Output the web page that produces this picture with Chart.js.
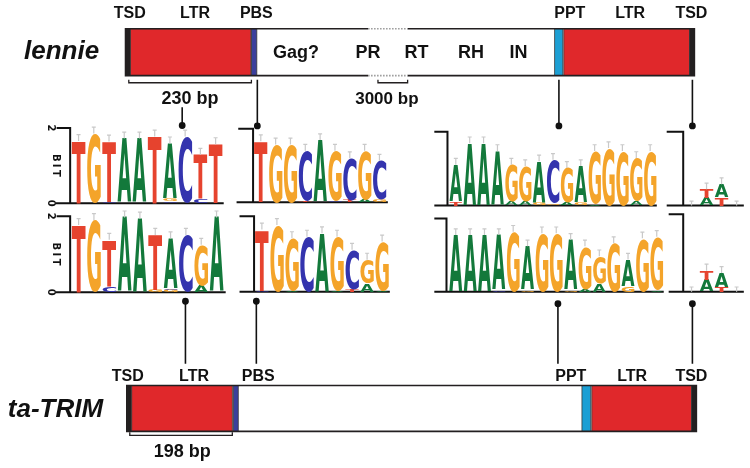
<!DOCTYPE html>
<html>
<head>
<meta charset="utf-8">
<script src="https://cdn.jsdelivr.net/npm/chart.js@4.4.1/dist/chart.umd.min.js"></script>
<style>
  body { margin: 0; background: #fff; }
  #wrap { width: 750px; height: 468px; }
</style>
</head>
<body>
<div id="wrap"><canvas id="figure" width="750" height="468"></canvas></div>
<script>
// element names and labels
const elementLabels = ["TSD", "LTR", "PBS", "PPT", "LTR", "TSD"];
const lennieDomains = ["Gag?", "PR", "RT", "RH", "IN"];
const lennieName = "lennie";
const trimName = "ta-TRIM";
const lennieLtrSize = "230 bp";
const lennieGapSize = "3000 bp";
const trimLtrSize = "198 bp";

// sequence logos: one entry per position, letters stacked bottom -> top as [base, bits]
const lennieLtrStart = [
    [["T", 1.65]], [["G", 1.85]], [["C", 0.04], ["T", 1.6]], [["A", 1.72]], [["A", 1.72]],
    [["T", 1.77]], [["C", 0.05], ["G", 0.07], ["A", 1.47]], [["C", 1.77]], [["C", 0.1], ["T", 1.19]], [["T", 1.57]]
];
const trimLtrStart = [
    [["T", 1.77]], [["G", 1.9]], [["C", 0.15], ["T", 1.23]], [["A", 1.97]], [["A", 1.94]],
    [["G", 0.05], ["T", 1.46]], [["G", 0.05], ["C", 0.04], ["A", 1.33]], [["C", 1.51]], [["A", 0.17], ["G", 1.08]], [["A", 1.97]]
];
const lenniePbs = [
    [["T", 1.66]], [["G", 1.57]], [["G", 1.57]], [["T", 0.05], ["C", 1.35]], [["A", 1.69]],
    [["C", 0.05], ["G", 1.35]], [["T", 0.07], ["C", 1.13]], [["A", 0.08], ["G", 1.32]], [["G", 0.08], ["C", 1.05]]
];
const trimPbs = [
    [["C", 0.03], ["T", 1.62]], [["G", 1.77]], [["A", 0.03], ["G", 1.39]], [["C", 1.46]], [["A", 1.55]],
    [["A", 0.03], ["G", 1.43]], [["T", 0.06], ["C", 1.05]], [["A", 0.22], ["G", 0.63]], [["A", 0.04], ["G", 1.29]]
];
const lenniePpt = [
    [["T", 0.1], ["A", 1.01]], [["A", 1.69]], [["A", 1.69]], [["A", 1.48]], [["A", 0.1], ["G", 1.01]],
    [["A", 0.1], ["G", 0.97]], [["G", 0.08], ["A", 1.12]], [["G", 0.05], ["C", 1.19]], [["A", 0.08], ["G", 0.94]],
    [["G", 0.08], ["A", 0.99]], [["A", 0.04], ["G", 1.44]], [["G", 1.56]], [["G", 1.48]], [["A", 0.1], ["G", 1.19]], [["G", 1.48]]
];
const trimPpt = [
    [["A", 1.55]], [["A", 1.55]], [["A", 1.55]], [["C", 0.04], ["A", 1.51]], [["G", 1.64]],
    [["G", 0.05], ["A", 1.19]], [["G", 1.6]], [["G", 1.6]], [["G", 0.05], ["A", 1.37]], [["A", 0.08], ["G", 1.16]],
    [["A", 0.22], ["G", 0.75]], [["G", 1.33]], [["G", 0.15], ["A", 0.73]], [["G", 1.46]], [["A", 0.04], ["G", 1.46]]
];
const lennieTsd = [[], [["A", 0.2], ["T", 0.24]], [["T", 0.22], ["A", 0.36]], []];
const trimTsd = [[], [["A", 0.3], ["T", 0.24]], [["T", 0.12], ["A", 0.36]], []];
const bitTicks = ["0", "2"];

// colours
const baseColors = { A: "#13793b", C: "#3434ae", G: "#f4a42a", T: "#e6432e" };
const RED = "#e0282b", CYAN = "#1c9fd4", PURPLE = "#3b3f9c", DARK = "#231f20";

// layout (figure units, 750 x 468)
const lennieBox = { x0: 122.7, x1: 698, y0: 25, y1: 72.7, gap: [368, 408] };
const trimBox = { x0: 124, x1: 700, y0: 388.3, y1: 435 };
const lennieSegs = [[122.7, 127.7, DARK], [127.7, 249.5, RED], [250, 255.5, PURPLE], [556.7, 565, CYAN], [566, 693, RED], [693, 698, DARK]];
const trimSegs = [[124, 129, DARK], [129, 230.7, RED], [231.7, 236.7, PURPLE], [584.3, 593.3, CYAN], [594.3, 695, RED], [695, 700, DARK]];
const lennieLabelX = [127, 193, 255, 572, 633, 695];
const trimLabelX = [125, 192, 257, 573, 635, 695];
const domainX = [295, 368, 417, 472, 520];

const panels = [
    { data: lennieLtrStart, axis: 66.7, tick: 53, lineL: 52, lineR: 222, top: 126, base: 202.7, start: 67.5, slot: 15.4, bitText: true },
    { data: trimLtrStart, axis: 66.7, tick: 53, lineL: 52, lineR: 224, top: 216, base: 293.3, start: 67.5, slot: 15.5, bitText: true },
    { data: lenniePbs, axis: 251.7, tick: 236.7, lineL: 235, lineR: 388, top: 126.7, base: 201.7, start: 252, slot: 15, bitText: false },
    { data: trimPbs, axis: 252.7, tick: 238, lineL: 238, lineR: 390, top: 216, base: 292.7, start: 253, slot: 15.2, bitText: false },
    { data: lenniePpt, axis: 448.3, tick: 435, lineL: 435, lineR: 660, top: 130, base: 205, start: 449.7, slot: 14.04, bitText: false },
    { data: trimPpt, axis: 447.3, tick: 435, lineL: 435, lineR: 667, top: 218.3, base: 292.7, start: 449.4, slot: 14.52, bitText: false },
    { data: lennieTsd, axis: 686.7, tick: 670, lineL: 670, lineR: 748, top: 130, base: 205, start: 687.5, slot: 15.2, bitText: false },
    { data: trimTsd, axis: 686.7, tick: 672, lineL: 672, lineR: 748, top: 214, base: 292.7, start: 687.5, slot: 15.2, bitText: false }
];

// connectors: [x, dot y, other end y]
const connectors = [[180, 123.5, 105], [256, 124, 77], [561, 124, 77], [696, 124, 77],
                    [183.3, 302.5, 366], [255, 302.5, 366], [560, 305, 366], [696, 305, 366]];

function letter(ctx, ch, x, yBottom, w, h, color) {
    if (h < 0.6) return;
    ctx.save();
    ctx.font = 'bold 100px "DejaVu Sans", "Liberation Sans", sans-serif';
    ctx.textBaseline = "alphabetic";
    ctx.textAlign = "left";
    const m = ctx.measureText(ch);
    const gw = m.actualBoundingBoxLeft + m.actualBoundingBoxRight;
    const gh = m.actualBoundingBoxAscent + m.actualBoundingBoxDescent;
    ctx.translate(x, yBottom);
    ctx.scale(w / gw, h / gh);
    ctx.fillStyle = color;
    ctx.fillText(ch, m.actualBoundingBoxLeft, -m.actualBoundingBoxDescent);
    ctx.restore();
}

function drawBox(ctx, X, Y, box, segs) {
    const l = X(box.x0), r = X(box.x1), t = Y(box.y0), b = Y(box.y1);
    ctx.fillStyle = "#fff";
    ctx.fillRect(l, t, r - l, b - t);
    segs.forEach(s => {
        ctx.fillStyle = s[2];
        ctx.fillRect(X(s[0]), t, X(s[1]) - X(s[0]), b - t);
        ctx.strokeStyle = "#3a3a3a";
        ctx.lineWidth = 0.8;
        ctx.strokeRect(X(s[0]), t, X(s[1]) - X(s[0]), b - t);
    });
    ctx.strokeStyle = DARK;
    ctx.lineWidth = 1.6;
    ctx.beginPath();
    if (box.gap) {
        const g0 = X(box.gap[0]), g1 = X(box.gap[1]);
        ctx.moveTo(g0, t); ctx.lineTo(l, t); ctx.lineTo(l, b); ctx.lineTo(g0, b);
        ctx.moveTo(g1, t); ctx.lineTo(r, t); ctx.lineTo(r, b); ctx.lineTo(g1, b);
        ctx.stroke();
        ctx.save();
        ctx.setLineDash([1.5, 1.5]);
        ctx.strokeStyle = "#999";
        ctx.beginPath();
        ctx.moveTo(g0, t); ctx.lineTo(g1, t);
        ctx.moveTo(g0, b); ctx.lineTo(g1, b);
        ctx.stroke();
        ctx.restore();
    } else {
        ctx.rect(l, t, r - l, b - t);
        ctx.stroke();
    }
}

function bracket(ctx, X, Y, x0, x1, y, text, textX, textY, size) {
    ctx.strokeStyle = DARK;
    ctx.lineWidth = 1.3;
    ctx.beginPath();
    ctx.moveTo(X(x0), Y(y - 3)); ctx.lineTo(X(x0), Y(y));
    ctx.lineTo(X(x1), Y(y)); ctx.lineTo(X(x1), Y(y - 3));
    ctx.stroke();
    ctx.fillStyle = "#111";
    ctx.font = 'bold ' + size + 'px "Liberation Sans", Arial, sans-serif';
    ctx.textAlign = "center";
    ctx.textBaseline = "middle";
    ctx.fillText(text, X(textX), Y(textY));
}

function drawLogo(ctx, X, Y, p) {
    const bit = (p.base - p.top) / 2;
    ctx.strokeStyle = "#111";
    ctx.lineWidth = 2;
    ctx.beginPath();
    ctx.moveTo(X(p.tick), Y(p.top)); ctx.lineTo(X(p.axis), Y(p.top)); ctx.lineTo(X(p.axis), Y(p.base));
    ctx.moveTo(X(p.lineL), Y(p.base)); ctx.lineTo(X(p.lineR), Y(p.base));
    ctx.stroke();
    p.data.forEach((stack, i) => {
        const cx = p.start + (i + 0.5) * p.slot;
        const w = p.slot * 0.9;
        let acc = 0;
        stack.forEach(([ch, b]) => {
            const yb = Y(p.base - acc * bit), yt = Y(p.base - (acc + b) * bit);
            letter(ctx, ch, X(cx - w / 2), yb, X(cx + w / 2) - X(cx - w / 2), yb - yt, baseColors[ch]);
            acc += b;
        });
        // error bar
        const e0 = Y(p.base - acc * bit), e1 = Y(p.base - (acc + (acc > 0 ? 0.17 : 0.12)) * bit);
        ctx.strokeStyle = "#c9c9c9";
        ctx.lineWidth = 1.2;
        ctx.beginPath();
        ctx.moveTo(X(cx), e0); ctx.lineTo(X(cx), e1);
        ctx.moveTo(X(cx) - 2, e1); ctx.lineTo(X(cx) + 2, e1);
        ctx.stroke();
    });
    if (p.bitText) {
        ctx.fillStyle = "#111";
        ctx.font = 'bold 10px "DejaVu Sans", sans-serif';
        ctx.textAlign = "center";
        ctx.textBaseline = "middle";
        const rot = (txt, x, y) => {
            ctx.save(); ctx.translate(X(x), Y(y)); ctx.rotate(Math.PI / 2); ctx.fillText(txt, 0, 0); ctx.restore();
        };
        rot(bitTicks[1], 46.5, p.top);
        rot(bitTicks[0], 46.5, p.base);
        const mid = (p.top + p.base) / 2;
        ["B", "I", "T"].forEach((c, k) => rot(c, 51.5, mid - 8 + k * 8));
    }
}

const figurePlugin = {
    id: "figure",
    beforeDatasetsDraw(chart) {
        const ctx = chart.ctx;
        const X = v => chart.scales.x.getPixelForValue(v);
        const Y = v => chart.scales.y.getPixelForValue(v);
        ctx.save();
        drawBox(ctx, X, Y, lennieBox, lennieSegs);
        drawBox(ctx, X, Y, trimBox, trimSegs);

        ctx.fillStyle = "#111";
        ctx.font = 'bold 16px "Liberation Sans", Arial, sans-serif';
        ctx.textAlign = "center";
        ctx.textBaseline = "middle";
        elementLabels.forEach((t, i) => {
            ctx.fillText(t, X(lennieLabelX[i]), Y(10));
            ctx.fillText(t, X(trimLabelX[i]), Y(379));
        });
        ctx.font = 'bold 18px "Liberation Sans", Arial, sans-serif';
        lennieDomains.forEach((t, i) => ctx.fillText(t, X(domainX[i]), Y(50)));

        ctx.font = 'italic bold 26px "Liberation Sans", Arial, sans-serif';
        ctx.textAlign = "left";
        ctx.fillText(lennieName, X(20), Y(48));
        ctx.textAlign = "right";
        ctx.fillText(trimName, X(100), Y(413));

        bracket(ctx, X, Y, 126, 250, 80, lennieLtrSize, 188, 97, 18);
        bracket(ctx, X, Y, 378, 408, 80, lennieGapSize, 387, 97, 17);
        bracket(ctx, X, Y, 127, 230.7, 439, trimLtrSize, 180, 456, 18);

        panels.forEach(p => drawLogo(ctx, X, Y, p));
        ctx.restore();
    }
};

const connectorSets = connectors.map(c => ({
    type: "line",
    data: [{ x: c[0], y: c[1] }, { x: c[0], y: c[2] }],
    borderColor: "#111",
    backgroundColor: "#111",
    borderWidth: 1.6,
    pointRadius: [2.6, 0],
    pointHoverRadius: 0,
    showLine: true,
    fill: false
}));

new Chart(document.getElementById("figure"), {
    type: "scatter",
    data: { datasets: connectorSets },
    options: {
        responsive: false,
        animation: false,
        events: [],
        layout: { padding: 0 },
        plugins: { legend: { display: false }, tooltip: { enabled: false } },
        scales: {
            x: { type: "linear", min: 0, max: 750, display: false },
            y: { type: "linear", min: 0, max: 468, reverse: true, display: false }
        }
    },
    plugins: [figurePlugin]
});
</script>
</body>
</html>
